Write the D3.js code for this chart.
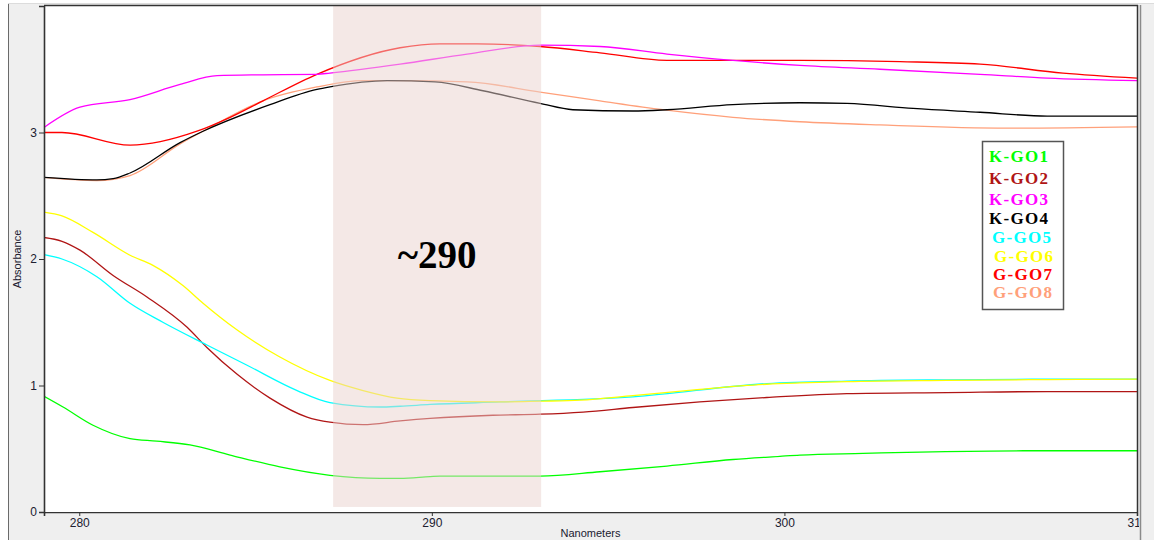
<!DOCTYPE html>
<html>
<head>
<meta charset="utf-8">
<script src="https://cdn.jsdelivr.net/npm/d3@7"></script>
<style>
  html, body { margin: 0; padding: 0; background: #ffffff; }
  svg { display: block; }
</style>
</head>
<body>
<svg id="chart" width="1154" height="540"></svg>
<script>
// ---------------- data (wavelength nm, absorbance) ----------------
const kgo1 = [[279.0,0.915],[279.54,0.83],[280.39,0.686],[281.44,0.58],[282.2,0.56],[283.14,0.53],[284.28,0.45],[285.69,0.357],[287.11,0.29],[288.53,0.266],[289.1,0.266],[289.95,0.28],[290.23,0.284],[293.07,0.284],[294.77,0.318],[296.67,0.363],[298.54,0.415],[299.87,0.44],[300.44,0.45],[302.23,0.463],[304.21,0.476],[306.77,0.484],[310.0,0.484]];
const kgo2 = [[279.0,2.17],[279.51,2.14],[280.02,2.07],[280.96,1.87],[281.92,1.70],[283.06,1.46],[283.62,1.30],[284.47,1.09],[285.41,0.90],[286.46,0.75],[287.11,0.71],[288.05,0.69],[289.1,0.72],[289.95,0.74],[291.73,0.765],[293.07,0.773],[294.29,0.79],[295.70,0.826],[297.6,0.87],[299.5,0.905],[301.77,0.936],[304.61,0.944],[307.45,0.952],[310.0,0.952]];
const kgo3 = [[279.0,3.04],[280.02,3.20],[281.44,3.26],[282.86,3.38],[283.91,3.45],[285.21,3.456],[286.74,3.46],[287.11,3.47],[289.1,3.54],[291.0,3.62],[293.07,3.69],[294.77,3.68],[296.67,3.62],[298.54,3.57],[300.44,3.53],[302.71,3.50],[305.55,3.46],[307.45,3.43],[310.0,3.41]];
const kgo4 = [[279.0,2.645],[280.5,2.625],[280.96,2.635],[281.44,2.68],[282.86,2.92],[283.51,3.01],[285.41,3.22],[286.74,3.34],[287.11,3.36],[288.73,3.41],[290.09,3.40],[291.45,3.33],[293.07,3.23],[294.0,3.18],[295.70,3.17],[296.67,3.18],[298.54,3.22],[300.44,3.235],[301.77,3.23],[303.65,3.19],[305.55,3.16],[307.45,3.13],[310.0,3.13]];
const ggo5 = [[279.0,2.035],[279.51,2.00],[280.5,1.86],[281.44,1.65],[282.37,1.50],[283.62,1.32],[284.76,1.16],[286.18,0.96],[287.11,0.865],[288.53,0.83],[289.1,0.836],[289.95,0.85],[291.93,0.87],[295.70,0.91],[299.5,1.015],[301.77,1.035],[304.61,1.045],[307.45,1.05],[310.0,1.05]];
const ggo6 = [[279.0,2.37],[279.51,2.34],[280.39,2.21],[281.44,2.03],[282.09,1.95],[282.94,1.79],[283.51,1.65],[284.47,1.44],[285.69,1.225],[287.11,1.04],[288.05,0.96],[289.01,0.90],[289.95,0.88],[291.93,0.87],[293.07,0.876],[294.2,0.884],[295.70,0.92],[297.6,0.97],[299.5,1.01],[300.44,1.02],[301.77,1.03],[304.61,1.04],[307.45,1.047],[310.0,1.05]];
const ggo7 = [[279.0,3.00],[279.51,3.00],[281.44,2.90],[283.34,3.01],[284.28,3.12],[285.21,3.25],[286.74,3.46],[289.1,3.67],[290.23,3.70],[291.28,3.70],[293.07,3.68],[294.77,3.63],[296.67,3.57],[298.54,3.57],[300.44,3.57],[303.28,3.56],[305.55,3.54],[307.9,3.47],[310.0,3.43]];
const ggo8 = [[279.0,2.645],[280.5,2.62],[281.44,2.66],[282.86,2.91],[283.51,3.01],[285.21,3.25],[286.74,3.36],[288.05,3.41],[289.1,3.41],[291.0,3.40],[293.07,3.32],[294.77,3.25],[296.55,3.18],[298.54,3.12],[300.44,3.085],[302.71,3.06],[306.31,3.035],[310.0,3.045]];

const seriesNames = ["K-GO1","K-GO2","K-GO3","K-GO4","G-GO5","G-GO6","G-GO7","G-GO8"];
const seriesData  = [kgo1, kgo2, kgo3, kgo4, ggo5, ggo6, ggo7, ggo8];
const seriesColors = ["#00ff00","#b01515","#ff00ff","#000000","#00ffff","#ffff00","#ff0000","#ffa07a"];

const xTicks = [280, 290, 300, 310];
const yTicks = [0, 1, 2, 3];
const xDomain = [279, 310];
const yDomain = [0, 4];
const band = {start: 287.2, end: 293.1, bottom: 0.04, label: "~290"};
const xTitle = "Nanometers";
const yTitle = "Absorbance";

// ---------------- drawing ----------------
const svg = d3.select("#chart");
const W = 1154, H = 540;
const plot = {left: 44, right: 1137, top: 6, bottom: 512};

// window background
svg.append("rect").attr("x", 8).attr("y", 3).attr("width", W - 8).attr("height", H - 3)
  .attr("fill", "#efefef");
svg.append("line").attr("x1", 8).attr("x2", W).attr("y1", 3.5).attr("y2", 3.5)
  .attr("stroke", "#dcdcdc").attr("stroke-width", 1);
svg.append("line").attr("x1", 8.5).attr("x2", 8.5).attr("y1", 4).attr("y2", H)
  .attr("stroke", "#6a6a6a").attr("stroke-width", 1);

// plot area
svg.append("rect").attr("x", plot.left).attr("y", plot.top)
  .attr("width", plot.right - plot.left).attr("height", plot.bottom - plot.top)
  .attr("fill", "#ffffff");

const x = d3.scaleLinear().domain(xDomain).range([plot.left, plot.right]);
const y = d3.scaleLinear().domain(yDomain).range([plot.bottom, plot.top]);

const defs = svg.append("defs");
defs.append("clipPath").attr("id", "clip").append("rect")
  .attr("x", plot.left).attr("y", plot.top)
  .attr("width", plot.right - plot.left).attr("height", plot.bottom - plot.top);
defs.append("clipPath").attr("id", "clipx").append("rect")
  .attr("x", 0).attr("y", 0).attr("width", plot.right + 2).attr("height", 40);

const line = d3.line().x(d => x(d[0])).y(d => y(d[1])).curve(d3.curveMonotoneX);

const lines = svg.append("g").attr("clip-path", "url(#clip)");
// draw back to front
const order = [7, 6, 3, 2, 0, 1, 4, 5];
order.forEach(i => {
  lines.append("path").datum(seriesData[i])
    .attr("d", line)
    .attr("fill", "none")
    .attr("stroke", seriesColors[i])
    .attr("stroke-width", 1.3)
    .attr("stroke-linejoin", "round");
});

// shaded band drawn over the lines (semi-transparent)
svg.append("rect")
  .attr("x", x(band.start)).attr("y", y(yDomain[1]))
  .attr("width", x(band.end) - x(band.start))
  .attr("height", y(band.bottom) - y(yDomain[1]))
  .attr("fill", "#ead1ce").attr("fill-opacity", 0.5);

svg.append("text")
  .attr("x", (x(band.start) + x(band.end)) / 2).attr("y", 268)
  .attr("text-anchor", "middle")
  .attr("font-family", "'Liberation Serif', 'Times New Roman', serif")
  .attr("font-weight", "bold").attr("font-size", 39)
  .attr("fill", "#000").text(band.label);

// frame lines
svg.append("line").attr("x1", plot.left).attr("x2", plot.right + 1).attr("y1", plot.top - 0.5).attr("y2", plot.top - 0.5)
  .attr("stroke", "#333").attr("stroke-width", 1.5);
svg.append("line").attr("x1", plot.right + 0.5).attr("x2", plot.right + 0.5).attr("y1", plot.top - 1).attr("y2", plot.bottom)
  .attr("stroke", "#333").attr("stroke-width", 1.5);

// axes
const axisFont = "'Liberation Sans', Arial, sans-serif";
const yAxis = svg.append("g").attr("transform", `translate(${plot.left},0)`)
  .call(d3.axisLeft(y).tickValues(yTicks).tickFormat(d3.format("d")).tickSize(5).tickPadding(2));
const xAxisWrap = svg.append("g").attr("transform", `translate(0,${plot.bottom})`)
  .attr("clip-path", "url(#clipx)");
const xAxis = xAxisWrap.append("g")
  .call(d3.axisBottom(x).tickValues(xTicks).tickFormat(d3.format("d")).tickSize(4).tickPadding(2));
[yAxis, xAxis].forEach(g => {
  g.select(".domain").attr("stroke", "#333").attr("stroke-width", 1.6);
  g.selectAll(".tick line").attr("stroke", "#333");
  g.selectAll(".tick text").attr("font-family", axisFont).attr("font-size", 12).attr("fill", "#202030");
});

svg.append("line").attr("x1", plot.right + 3.5).attr("x2", plot.right + 3.5).attr("y1", plot.top - 1).attr("y2", H)
  .attr("stroke", "#8a8a8a").attr("stroke-width", 1.5);

svg.append("text").attr("x", (plot.left + plot.right) / 2).attr("y", 537)
  .attr("text-anchor", "middle").attr("font-family", axisFont).attr("font-size", 11)
  .attr("fill", "#202030").text(xTitle);
svg.append("text").attr("transform", `translate(21,${(plot.top + plot.bottom) / 2}) rotate(-90)`)
  .attr("text-anchor", "middle").attr("font-family", axisFont).attr("font-size", 11)
  .attr("fill", "#202030").text(yTitle);

// legend
const lg = svg.append("g");
lg.append("rect").attr("x", 982.5).attr("y", 141.5).attr("width", 81).attr("height", 168)
  .attr("fill", "#ffffff").attr("stroke", "#555").attr("stroke-width", 1.5);
const legendY = [162, 184, 205, 224, 243, 262, 280, 298];
const legendX = [989, 989, 989, 989, 992, 994, 993, 993];
seriesNames.forEach((n, i) => {
  lg.append("text").attr("x", legendX[i]).attr("y", legendY[i])
    .attr("font-family", "'Liberation Serif', 'Times New Roman', serif")
    .attr("font-weight", "bold").attr("font-size", 17)
    .attr("letter-spacing", 1.3)
    .attr("fill", seriesColors[i]).text(n);
});
</script>
</body>
</html>
